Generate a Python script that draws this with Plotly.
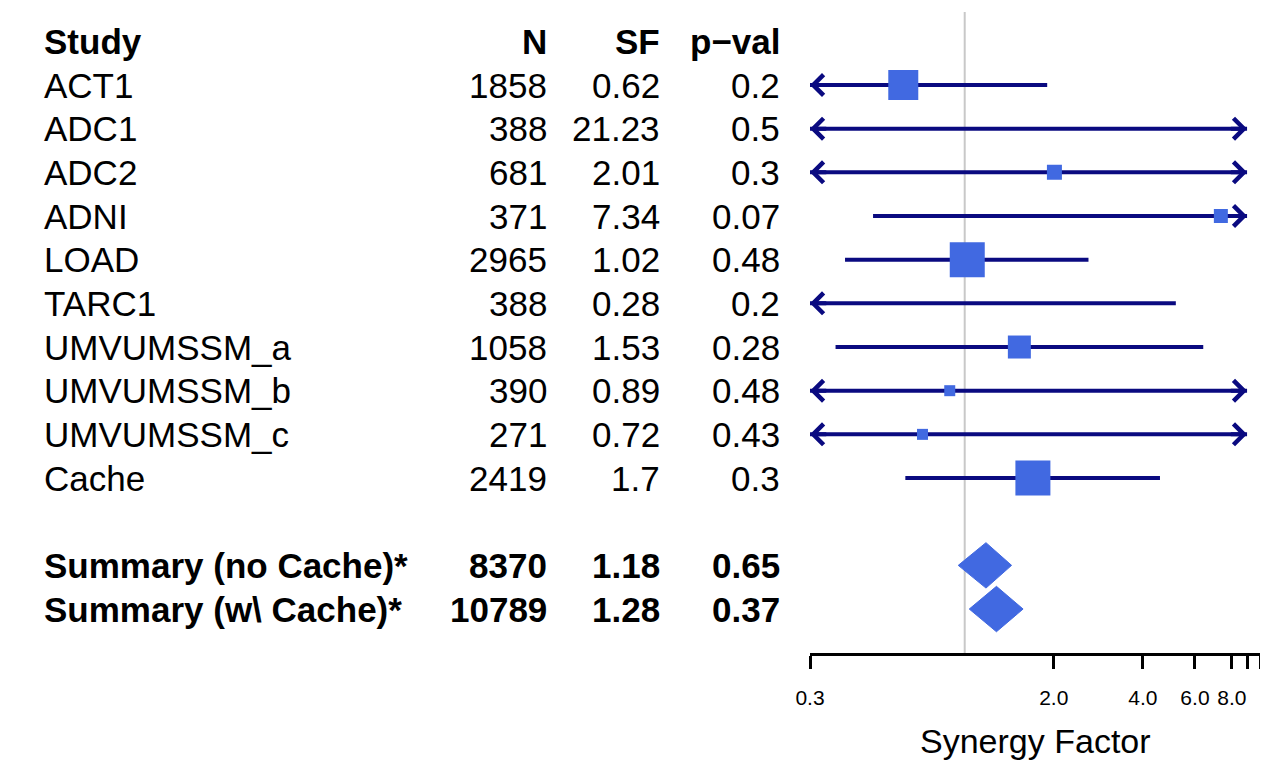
import numpy as np
import plotly.graph_objects as go

# ---------------- data ----------------
studies = ["ACT1", "ADC1", "ADC2", "ADNI", "LOAD", "TARC1",
           "UMVUMSSM_a", "UMVUMSSM_b", "UMVUMSSM_c", "Cache"]
n_vals = [1858, 388, 681, 371, 2965, 388, 1058, 390, 271, 2419]
sf_vals = [0.62, 21.23, 2.01, 7.34, 1.02, 0.28, 1.53, 0.89, 0.72, 1.70]
p_vals = [0.2, 0.5, 0.3, 0.07, 0.48, 0.2, 0.28, 0.48, 0.43, 0.3]
ci_low = [0.20, 0.02, 0.05, 0.49, 0.394, 0.015, 0.366, 0.04, 0.03, 0.63]
ci_high = [1.90, 20000.0, 80.0, 110.0, 2.62, 5.17, 6.40, 20.0, 17.0, 4.57]

summary_labels = ["Summary (no Cache)*", "Summary (w\\ Cache)*"]
summary_n = [8370, 10789]
summary_sf = [1.18, 1.28]
summary_p = [0.65, 0.37]
summary_low = [0.951, 1.036]
summary_high = [1.44, 1.575]

headers = ["Study", "N", "SF", "p\u2212val"]
tick_vals = [0.3, 2, 4, 6, 8, 9, 10]
tick_text = ["0.3", "2.0", "4.0", "6.0", "8.0", "", ""]
clip_range = [0.3, 9.0]
null_value = 1.0

# ---------------- styles / layout ----------------
OFF = 8                      # page body margin
W, H = 1268 - OFF, 763 - OFF
FONT = "Liberation Sans, Arial, sans-serif"
LINE_COL = "#0a0a80"
BOX_COL = "#4169E1"
box_px = [30, 0, 15, 14, 35, 0, 23, 11, 11, 35]
row_study = list(range(1, len(studies) + 1))
row_summary = [12, 13]
row_header = 0
diamond_half = 0.52
ROW_PX, ROW1_PX = 43.67, 85


def px_x(x):
    return (x - OFF) / W


def px_y(y):
    return 1 - (y - OFF) / H


fig = go.Figure()

# CI lines (clipped)
lx, ly = [], []
arrows = []
for r, lo, hi in zip(row_study, ci_low, ci_high):
    a = max(lo, clip_range[0])
    b = min(hi, clip_range[1])
    lx += [a, b, None]
    ly += [r, r, None]
    if lo < clip_range[0]:
        arrows.append((clip_range[0], r, -1))
    if hi > clip_range[1]:
        arrows.append((clip_range[1], r, 1))
fig.add_trace(go.Scatter(x=lx, y=ly, mode="lines",
                         line=dict(color=LINE_COL, width=4),
                         hoverinfo="skip", showlegend=False))

# boxes
bx, by, bs = [], [], []
for r, e, s in zip(row_study, sf_vals, box_px):
    if clip_range[0] <= e <= clip_range[1] and s > 0:
        bx.append(e); by.append(r); bs.append(s)
fig.add_trace(go.Scatter(x=bx, y=by, mode="markers",
                         marker=dict(symbol="square", size=bs, color=BOX_COL,
                                     opacity=1, line=dict(width=0)),
                         showlegend=False))

# summary diamonds
for r, e, lo, hi in zip(row_summary, summary_sf, summary_low, summary_high):
    fig.add_trace(go.Scatter(
        x=[lo, e, hi, e, lo],
        y=[r, r - diamond_half, r, r + diamond_half, r],
        mode="lines", fill="toself", fillcolor=BOX_COL,
        line=dict(color=BOX_COL, width=1), showlegend=False))

annotations = []
# arrow heads
for xt, r, d in arrows:
    annotations.append(dict(
        x=np.log10(xt), y=r, xref="x", yref="y",
        ax=np.log10(xt) - d * 0.06, ay=r, axref="x", ayref="y",
        showarrow=True, arrowhead=4, arrowsize=1.0, arrowwidth=4,
        arrowcolor=LINE_COL, text=""))

# text columns
col_x = {"study": px_x(42), "n": px_x(549), "sf": px_x(662), "p": px_x(782)}


def txt(x, y, s, bold=False, anchor="right"):
    annotations.append(dict(
        x=x, y=y, xref="paper", yref="y", text=f"<b>{s}</b>" if bold else s,
        showarrow=False, xanchor=anchor, yanchor="middle",
        font=dict(family=FONT, size=35, color="black")))


txt(col_x["study"], row_header, headers[0], True, "left")
txt(col_x["n"], row_header, headers[1], True)
txt(col_x["sf"], row_header, headers[2], True)
txt(col_x["p"], row_header, headers[3], True)
for r, s, n, sf, p in zip(row_study, studies, n_vals, sf_vals, p_vals):
    txt(col_x["study"], r, s, False, "left")
    txt(col_x["n"], r, str(n))
    txt(col_x["sf"], r, f"{sf:g}")
    txt(col_x["p"], r, f"{p:g}")
for r, s, n, sf, p in zip(row_summary, summary_labels, summary_n, summary_sf, summary_p):
    txt(col_x["study"], r, s, True, "left")
    txt(col_x["n"], r, str(n), True)
    txt(col_x["sf"], r, f"{sf:g}", True)
    txt(col_x["p"], r, f"{p:g}", True)

axis_pos = px_y(654)
y_top = 1 + (OFF - ROW1_PX) / ROW_PX
y_bot = 1 + (763 - ROW1_PX) / ROW_PX
fig.update_layout(
    width=W, height=H, margin=dict(l=0, r=0, t=0, b=0),
    paper_bgcolor="white", plot_bgcolor="white",
    font=dict(family=FONT, color="black"),
    showlegend=False,
    annotations=annotations,
    shapes=[dict(type="line", xref="x", yref="paper",
                 x0=null_value, x1=null_value, y0=axis_pos, y1=px_y(12),
                 line=dict(color="#c8c8c8", width=2), layer="below")],
    xaxis=dict(type="log", range=[np.log10(0.3), np.log10(10)],
               domain=[px_x(810), px_x(1260.6)], anchor="free", position=axis_pos,
               showline=True, linecolor="black", linewidth=3,
               ticks="outside", ticklen=13, tickwidth=3, tickcolor="black",
               tickvals=tick_vals, ticktext=tick_text,
               tickfont=dict(family=FONT, size=21, color="black"),
               ticklabelstandoff=11,
               showgrid=False, zeroline=False, automargin=False,
               title=dict(text="Synergy Factor", standoff=20,
                          font=dict(family=FONT, size=34, color="black"))),
    yaxis=dict(range=[y_bot, y_top], domain=[0, 1], visible=False,
               showgrid=False, zeroline=False),
)

fig.write_html("out.html")
